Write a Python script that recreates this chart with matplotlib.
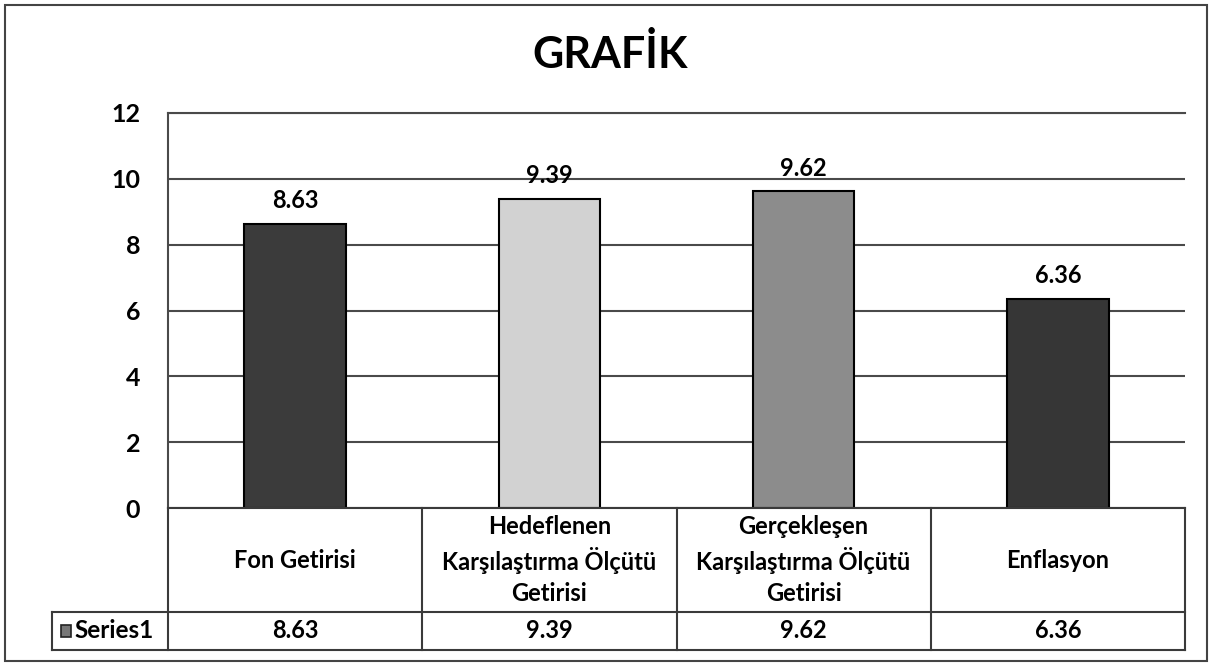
import matplotlib
matplotlib.use("Agg")
import matplotlib.pyplot as plt
from matplotlib.patches import Rectangle

# --- data --------------------------------------------------------------------
categories = [
    "Fon Getirisi",
    "Hedeflenen\nKarşılaştırma Ölçütü\nGetirisi",
    "Gerçekleşen\nKarşılaştırma Ölçütü\nGetirisi",
    "Enflasyon",
]
values = [8.63, 9.39, 9.62, 6.36]
value_labels = ["8.63", "9.39", "9.62", "6.36"]
series_name = "Series1"
title = "GRAFİK"
yticks = [0, 2, 4, 6, 8, 10, 12]

bar_colors = ["#3b3b3b", "#d2d2d2", "#8c8c8c", "#363636"]
FONT = "Lato"
W, H = 1212, 668


def px(x0, y0, x1, y1):
    """Pixel box (top-left origin) -> figure fraction rect."""
    return [x0 / W, 1 - y1 / H, (x1 - x0) / W, (y1 - y0) / H]


def main() -> None:
    plt.rcParams["font.family"] = [FONT, "DejaVu Sans"]
    fig = plt.figure(figsize=(W / 100, H / 100), dpi=100)

    # outer chart border
    fig.patches.append(Rectangle((5 / W, 1 - 661 / H), 1202 / W, 656 / H,
                                 transform=fig.transFigure, fill=False,
                                 ec="#444444", lw=1.5))

    fig.text(610 / W, 1 - 55 / H, title, ha="center", va="center",
             fontsize=31, fontweight="bold")

    # --- plot area -------------------------------------------------------
    ax = fig.add_axes(px(168, 113, 1185, 508))
    x = list(range(len(values)))
    ax.bar(x, values, width=0.4, color=bar_colors, edgecolor="black",
           lw=1.5, zorder=3)
    for xi, v, lab in zip(x, values, value_labels):
        ax.text(xi, v + 0.35, lab, ha="center", va="bottom",
                fontsize=17, fontweight="bold", zorder=4)

    ax.set_xlim(-0.5, len(values) - 0.5)
    ax.set_ylim(0, 12)
    ax.set_yticks(yticks)
    ax.set_yticklabels([str(t) for t in yticks], fontsize=18, fontweight="bold")
    ax.set_xticks([])
    ax.tick_params(axis="y", length=0, pad=20)
    ax.yaxis.grid(True, color="#4a4a4a", lw=1.5, zorder=0)
    for side in ("right", "bottom"):
        ax.spines[side].set_visible(False)
    for side in ("left", "top"):
        ax.spines[side].set_color("#4a4a4a")
        ax.spines[side].set_linewidth(1.5)

    # --- data table ------------------------------------------------------
    tax = fig.add_axes(px(168, 508, 1185, 650))
    tax.set_xlim(-0.5, len(values) - 0.5)
    tax.set_ylim(0, 1)
    tax.axis("off")
    row_split = (650 - 612) / (650 - 508)
    left_cell = -0.5 - (168 - 52) / ((1185 - 168) / len(values))

    lc = "#3a3a3a"
    for i in range(len(values) + 1):
        tax.plot([i - 0.5, i - 0.5], [0, 1], color=lc, lw=1.5, clip_on=False)
    tax.plot([-0.5, len(values) - 0.5], [1, 1], color=lc, lw=1.5, clip_on=False)
    tax.plot([left_cell, len(values) - 0.5], [row_split, row_split],
             color=lc, lw=1.5, clip_on=False)
    tax.plot([left_cell, len(values) - 0.5], [0, 0], color=lc, lw=1.5,
             clip_on=False)
    tax.plot([left_cell, left_cell], [0, row_split], color=lc, lw=1.5,
             clip_on=False)

    for i, (cat, lab) in enumerate(zip(categories, value_labels)):
        tax.text(i, (1 + row_split) / 2, cat, ha="center", va="center",
                 fontsize=17, fontweight="bold", linespacing=1.42)
        tax.text(i, row_split / 2, lab, ha="center", va="center",
                 fontsize=17, fontweight="bold")

    # legend key + series name
    key_w = 0.04
    tax.add_patch(Rectangle((left_cell + 0.035, row_split / 2 - 0.045), key_w,
                            0.09, facecolor="#777777", edgecolor="#222222",
                            lw=1.2, clip_on=False))
    tax.text(left_cell + 0.035 + key_w + 0.012, row_split / 2, series_name,
             ha="left", va="center", fontsize=17.5, fontweight="bold")

    fig.savefig("out.png", dpi=100)


if __name__ == "__main__":
    main()
